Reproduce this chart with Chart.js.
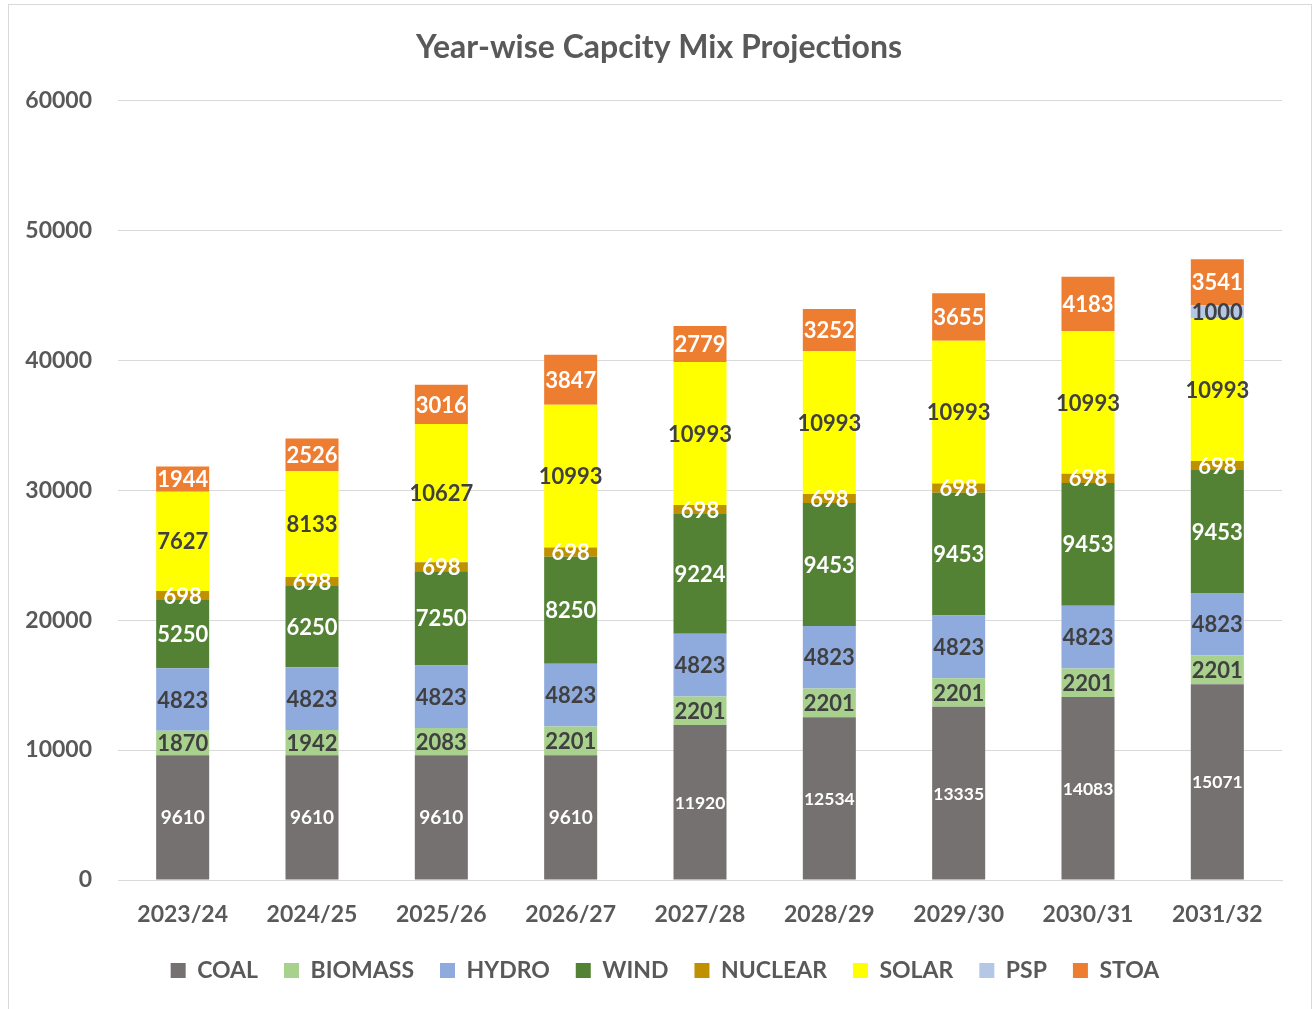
<!DOCTYPE html>
<html><head><meta charset="utf-8">
<script src="https://cdn.jsdelivr.net/npm/chart.js@4.4.0/dist/chart.umd.min.js"></script>
<style>
html,body{margin:0;padding:0;background:#fff;}
#wrap{position:absolute;left:0;top:0;width:1313px;height:1009px;}
#frame{position:absolute;left:8px;top:4px;width:1304px;height:1010px;border:1px solid #d9d9d9;box-sizing:border-box;}
</style></head><body>
<div id="wrap"><div id="frame"></div><canvas id="c" width="1313" height="1009"></canvas></div>
<script>
const categories = ["2023/24","2024/25","2025/26","2026/27","2027/28","2028/29","2029/30","2030/31","2031/32"];
const coal     = [9610, 9610, 9610, 9610, 11920, 12534, 13335, 14083, 15071];
const biomass  = [1870, 1942, 2083, 2201, 2201, 2201, 2201, 2201, 2201];
const hydro    = [4823, 4823, 4823, 4823, 4823, 4823, 4823, 4823, 4823];
const wind     = [5250, 6250, 7250, 8250, 9224, 9453, 9453, 9453, 9453];
const nuclear  = [698, 698, 698, 698, 698, 698, 698, 698, 698];
const solar    = [7627, 8133, 10627, 10993, 10993, 10993, 10993, 10993, 10993];
const psp      = [0, 0, 0, 0, 0, 0, 0, 0, 1000];
const stoa     = [1944, 2526, 3016, 3847, 2779, 3252, 3655, 4183, 3541];
const yTicks   = [0, 10000, 20000, 30000, 40000, 50000, 60000];

const FONT = "Lato, 'Open Sans', sans-serif";
const GREY = "#595959";
const series = [
  {label:"COAL", data:coal, color:"#767171", lbl:"#ffffff", size:19},
  {label:"BIOMASS", data:biomass, color:"#a9d18e", lbl:"#404040", size:22},
  {label:"HYDRO", data:hydro, color:"#8faadc", lbl:"#404040", size:22},
  {label:"WIND", data:wind, color:"#548235", lbl:"#ffffff", size:22},
  {label:"NUCLEAR", data:nuclear, color:"#bf9000", lbl:"#ffffff", size:22},
  {label:"SOLAR", data:solar, color:"#ffff00", lbl:"#404040", size:22},
  {label:"PSP", data:psp, color:"#b4c7e7", lbl:"#404040", size:22},
  {label:"STOA", data:stoa, color:"#ed7d31", lbl:"#ffffff", size:22}
];

const labelPlugin = {
  id:"segLabels",
  afterDatasetsDraw(chart){
    const ctx = chart.ctx;
    chart.data.datasets.forEach((ds, di)=>{
      const meta = chart.getDatasetMeta(di);
      const s = series[di];
      meta.data.forEach((bar, i)=>{
        const v = ds.data[i];
        if(!v) return;
        const txt = String(v);
        let size = s.size;
        if(di===0 && txt.length>4) size = 17.5;
        ctx.save();
        ctx.font = "bold " + size + "px " + FONT;
        ctx.fillStyle = s.lbl;
        ctx.textAlign = "center";
        ctx.textBaseline = "middle";
        ctx.fillText(txt, bar.x, (bar.y + bar.base)/2 + 1);
        ctx.restore();
      });
    });
  }
};

const shiftPlugin = {
  id:"shiftBoxes",
  beforeDraw(chart){
    [[chart.legend, 24],[chart.titleBlock, 18]].forEach(([box, dx])=>{
      if(box && !box._shifted){
        const orig = box.draw.bind(box);
        box.draw = function(a){ chart.ctx.save(); chart.ctx.translate(dx, 0); orig(a); chart.ctx.restore(); };
        box._shifted = true;
      }
    });
  }
};

new Chart(document.getElementById("c"), {
  type:"bar",
  data:{
    labels:categories,
    datasets:series.map(s=>({label:s.label, data:s.data, backgroundColor:s.color, borderWidth:0, barPercentage:0.41, categoryPercentage:1}))
  },
  options:{
    responsive:false,
    animation:false,
    layout:{padding:{left:0, right:31, top:0, bottom:17}},
    scales:{
      x:{stacked:true,
         grid:{display:false},
         border:{display:true, color:"#d9d9d9", width:1},
         ticks:{color:GREY, font:{family:FONT, size:23, weight:"bold"}, padding:13},
         afterFit(sc){ sc.height = 53; }
      },
      y:{stacked:true, min:0, max:60000,
         afterBuildTicks(sc){ sc.ticks = yTicks.map(v=>({value:v})); },
         grid:{color:"#d9d9d9", lineWidth:1, drawTicks:false},
         border:{display:false},
         ticks:{color:GREY, font:{family:FONT, size:23, weight:"bold"}, padding:26, callback:(v)=>String(v)},
         afterFit(sc){ sc.width = 118; }
      }
    },
    plugins:{
      title:{display:true, text:"Year-wise Capcity Mix Projections", color:GREY,
        font:{family:FONT, size:32, weight:"bold"}, padding:{top:28, bottom:34}},
      legend:{position:"bottom",
        labels:{color:GREY, font:{family:FONT, size:23, weight:"bold"}, boxWidth:15, boxHeight:15, padding:26}},
      tooltip:{enabled:false}
    }
  },
  plugins:[labelPlugin, shiftPlugin]
});
</script>
</body></html>
